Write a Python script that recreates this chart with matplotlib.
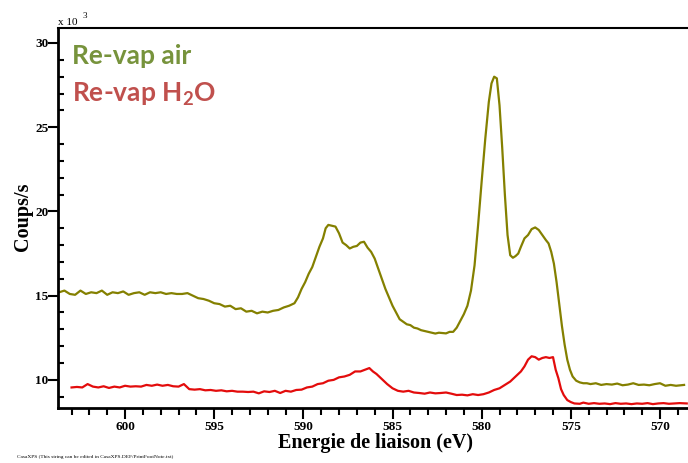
import matplotlib
matplotlib.use("Agg")
import matplotlib.pyplot as plt
from matplotlib.ticker import MultipleLocator

# ---- data (binding energy in eV, counts/s in units of 10^3) ----
air_energy = [603.7, 603.4, 603.1, 602.8, 602.5, 602.2, 601.9, 601.6, 601.3, 601.0,
              600.7, 600.4, 600.1, 599.8, 599.5, 599.2, 598.9, 598.6, 598.3, 598.0,
              597.7, 597.4, 597.1, 596.8, 596.5, 596.2, 595.9, 595.6, 595.3, 595.0,
              594.7, 594.4, 594.1, 593.8, 593.5, 593.2, 592.9, 592.6, 592.3, 592.0,
              591.7, 591.4, 591.1, 590.8, 590.5, 590.3, 590.1, 589.9, 589.7, 589.5,
              589.3, 589.1, 588.9, 588.75, 588.6, 588.4, 588.2, 588.0, 587.8, 587.6,
              587.4, 587.2, 587.0, 586.8, 586.6, 586.4, 586.2, 586.0, 585.8, 585.6,
              585.4, 585.2, 585.0, 584.8, 584.6, 584.4, 584.2, 584.0, 583.8, 583.6,
              583.4, 583.2, 583.0, 582.8, 582.6, 582.4, 582.2, 582.0, 581.8, 581.6,
              581.4, 581.2, 581.0, 580.8, 580.6, 580.4, 580.2, 580.0, 579.8, 579.6,
              579.45, 579.3, 579.15, 579.0, 578.85, 578.7, 578.55, 578.4, 578.25, 578.1,
              577.95, 577.8, 577.6, 577.4, 577.2, 577.0, 576.8, 576.6, 576.4, 576.25,
              576.1, 575.95, 575.8, 575.65, 575.5, 575.35, 575.2, 575.05, 574.9, 574.7,
              574.5, 574.3, 574.1, 573.9, 573.6, 573.3, 573.0, 572.7, 572.4, 572.1,
              571.8, 571.5, 571.2, 570.9, 570.6, 570.3, 570.0, 569.7, 569.4, 569.1,
              568.8, 568.65]
air_counts = [15.2, 15.3, 15.1, 15.05, 15.3, 15.1, 15.2, 15.15, 15.3, 15.05,
              15.2, 15.15, 15.25, 15.05, 15.15, 15.2, 15.05, 15.2, 15.15, 15.2,
              15.1, 15.15, 15.1, 15.1, 15.15, 15.0, 14.85, 14.8, 14.7, 14.55,
              14.5, 14.35, 14.4, 14.2, 14.25, 14.05, 14.1, 13.95, 14.05, 14.0,
              14.1, 14.15, 14.3, 14.4, 14.55, 14.9, 15.4, 15.8, 16.3, 16.7,
              17.3, 17.9, 18.4, 19.0, 19.2, 19.15, 19.1, 18.7, 18.15, 18.0,
              17.8, 17.9, 17.95, 18.15, 18.2, 17.85, 17.6, 17.2, 16.6, 16.0,
              15.4, 14.9, 14.4, 14.0, 13.6, 13.45, 13.3, 13.25, 13.1, 13.05,
              12.95, 12.9, 12.85, 12.8, 12.75, 12.8, 12.78, 12.76, 12.85, 12.85,
              13.1, 13.5, 13.9, 14.4, 15.3, 16.8, 19.2, 21.8, 24.3, 26.5,
              27.6, 28.0, 27.9, 26.3, 23.8, 21.0, 18.6, 17.4, 17.25, 17.35,
              17.5, 17.9, 18.4, 18.6, 18.95, 19.05, 18.9, 18.6, 18.3, 18.1,
              17.6, 16.9, 15.8, 14.5, 13.2, 12.1, 11.2, 10.6, 10.2, 9.95,
              9.85, 9.8, 9.8, 9.75, 9.8, 9.7, 9.75, 9.72, 9.78, 9.68,
              9.72, 9.8, 9.7, 9.72, 9.68, 9.75, 9.8, 9.65, 9.7, 9.65,
              9.68, 9.7]

h2o_energy = [603.0, 602.7, 602.4, 602.1, 601.8, 601.5, 601.2, 600.9, 600.6, 600.3,
              600.0, 599.7, 599.4, 599.1, 598.8, 598.5, 598.2, 597.9, 597.6, 597.3,
              597.0, 596.7, 596.4, 596.1, 595.8, 595.5, 595.2, 594.9, 594.6, 594.3,
              594.0, 593.7, 593.4, 593.1, 592.8, 592.5, 592.2, 591.9, 591.6, 591.3,
              591.0, 590.7, 590.4, 590.1, 589.8, 589.5, 589.2, 588.9, 588.6, 588.3,
              588.0, 587.7, 587.4, 587.1, 586.8, 586.5, 586.3, 586.1, 585.9, 585.6,
              585.3, 585.0, 584.7, 584.4, 584.1, 583.8, 583.5, 583.2, 582.9, 582.6,
              582.3, 582.0, 581.7, 581.4, 581.1, 580.8, 580.5, 580.2, 579.9, 579.6,
              579.3, 579.0, 578.7, 578.4, 578.1, 577.8, 577.6, 577.4, 577.2, 577.0,
              576.8, 576.6, 576.4, 576.2, 576.0, 575.85, 575.7, 575.55, 575.4, 575.2,
              575.0, 574.8, 574.5, 574.3, 574.0, 573.7, 573.4, 573.1, 572.8, 572.5,
              572.2, 571.9, 571.6, 571.3, 571.0, 570.7, 570.4, 570.1, 569.8, 569.5,
              569.2, 568.9, 568.5]
h2o_counts = [9.55, 9.58, 9.55, 9.75, 9.6, 9.55, 9.62, 9.52, 9.6, 9.55,
              9.65, 9.6, 9.62, 9.6, 9.7, 9.65, 9.72, 9.65, 9.7, 9.62,
              9.6, 9.75, 9.45, 9.42, 9.45, 9.38, 9.4, 9.35, 9.38, 9.32,
              9.35, 9.3, 9.3, 9.28, 9.3, 9.2, 9.32, 9.28, 9.35, 9.22,
              9.35, 9.3, 9.4, 9.42, 9.55, 9.6, 9.75, 9.8, 9.95, 10.0,
              10.15, 10.2, 10.3, 10.5, 10.5, 10.62, 10.7, 10.5, 10.35, 10.05,
              9.75, 9.5, 9.35, 9.3, 9.35, 9.25, 9.22, 9.18, 9.25, 9.2,
              9.22, 9.25, 9.18, 9.1, 9.12, 9.08, 9.15, 9.1, 9.15, 9.25,
              9.4, 9.5, 9.7, 9.9, 10.2, 10.5, 10.8, 11.2, 11.4, 11.35,
              11.2, 11.3, 11.35, 11.3, 11.35, 10.6, 10.1, 9.45, 9.1, 8.8,
              8.68, 8.6, 8.58, 8.65, 8.58, 8.62, 8.58, 8.6, 8.56, 8.62,
              8.58, 8.6, 8.56, 8.6, 8.58, 8.62, 8.56, 8.6, 8.62, 8.58,
              8.6, 8.62, 8.6]

x_ticks = [600, 595, 590, 585, 580, 575, 570]
y_ticks = [10, 15, 20, 25, 30]
series_names = ["Re-vap air", r"Re-vap H$_\mathbf{2}$O"]

plt.rcParams["mathtext.fontset"] = "custom"
plt.rcParams["mathtext.rm"] = "Lato"
plt.rcParams["mathtext.bf"] = "Lato:bold"

W, H = 688, 463
fig = plt.figure(figsize=(W / 100, H / 100), dpi=100)
ax = fig.add_axes([58 / W, (H - 408) / H, 630 / W, 380 / H])

ax.plot(air_energy, air_counts, color="#848000", lw=1.6)
ax.plot(h2o_energy, h2o_counts, color="#e30c0c", lw=1.6)

ax.set_xlim(603.76, 568.43)
ax.set_ylim(8.33, 30.89)

serif = "Liberation Serif"
ax.set_xticks(x_ticks)
ax.set_yticks(y_ticks)
ax.xaxis.set_minor_locator(MultipleLocator(1))
ax.yaxis.set_minor_locator(MultipleLocator(1))
ax.tick_params(axis="x", which="major", direction="out", length=8, width=1.5, pad=1)
ax.tick_params(axis="x", which="minor", direction="out", length=5, width=1.5)
ax.tick_params(axis="y", which="major", direction="out", length=7, width=1.5, pad=0)
ax.tick_params(axis="y", which="minor", direction="in", length=4, width=1.5)
for lab in ax.get_xticklabels() + ax.get_yticklabels():
    lab.set_fontfamily(serif)
    lab.set_fontweight("bold")
    lab.set_fontsize(9.5)

for s in ["left", "bottom"]:
    ax.spines[s].set_linewidth(2)
ax.spines["top"].set_linewidth(1.5)
ax.spines["right"].set_visible(False)

fig.text(376 / W, 1 - 448 / H, "Energie de liaison (eV)", fontfamily=serif,
         fontweight="bold", fontsize=14.5, ha="center", va="baseline")
fig.text(23 / W, 1 - 217 / H, "Coups/s", rotation=90, fontfamily=serif,
         fontweight="bold", fontsize=14.5, ha="center", va="center")

# scale factor label
fig.text(58 / W, 1 - 25 / H, "x 10", fontfamily=serif, fontsize=8,
         ha="left", va="baseline")
fig.text(83 / W, 1 - 18 / H, "3", fontfamily=serif, fontsize=6.5,
         ha="left", va="baseline")

# legend-like labels
ax.text(72 / W, 1 - 64 / H, series_names[0], transform=fig.transFigure,
        color="#77933c", fontfamily="Lato", fontweight="bold", fontsize=19,
        ha="left", va="baseline")
ax.text(72 / W, 1 - 102 / H, series_names[1], transform=fig.transFigure,
        color="#c0504d", fontfamily="Lato", fontweight="bold", fontsize=19,
        ha="left", va="baseline")

fig.text(17 / W, 1 - 457 / H,
         "CasaXPS (This string can be edited in CasaXPS.DEF/PrintFootNote.txt)",
         fontfamily=serif, fontsize=3.9, ha="left", va="center")

fig.savefig("out.png", dpi=100)
